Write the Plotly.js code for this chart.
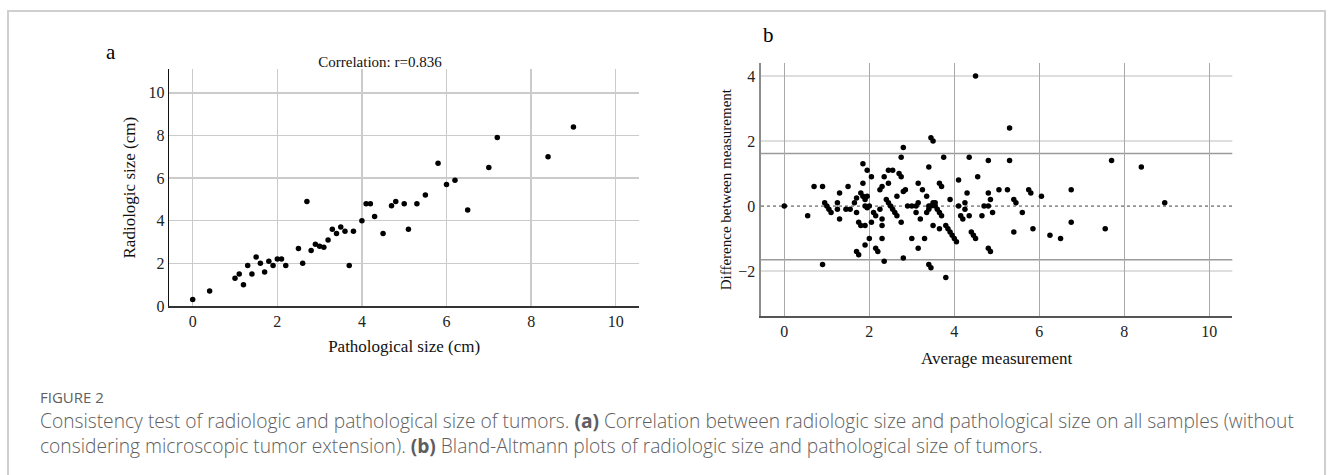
<!DOCTYPE html>
<html>
<head>
<meta charset="utf-8">
<script src="https://cdn.plot.ly/plotly-3.0.1.min.js"></script>
<style>
  html, body { margin: 0; padding: 0; background: #ffffff; }
  #chart { width: 1333px; height: 475px; }
</style>
</head>
<body>
<div id="chart"></div>
<script>
// ---------------- DATA ----------------
// Panel a: pathological size (cm) vs radiologic size (cm)
const pathSize  = [0, 0.4, 1.0, 1.1, 1.2, 1.3, 1.4, 1.5, 1.6, 1.7, 1.8, 1.9, 2.0, 2.1, 2.2, 2.5, 2.6, 2.7, 2.8, 2.9, 3.0, 3.1, 3.2, 3.3, 3.4, 3.5, 3.6, 3.7, 3.8, 4.0, 4.1, 4.2, 4.3, 4.5, 4.7, 4.8, 5.0, 5.1, 5.3, 5.5, 5.8, 6.0, 6.2, 6.5, 7.0, 7.2, 8.4, 9.0];
const radioSize = [0.3, 0.7, 1.3, 1.5, 1.0, 1.9, 1.5, 2.3, 2.0, 1.6, 2.1, 1.9, 2.2, 2.2, 1.9, 2.7, 2.0, 4.9, 2.6, 2.9, 2.8, 2.75, 3.1, 3.6, 3.4, 3.7, 3.5, 1.9, 3.5, 4.0, 4.8, 4.8, 4.2, 3.4, 4.7, 4.9, 4.8, 3.6, 4.8, 5.2, 6.7, 5.7, 5.9, 4.5, 6.5, 7.9, 7.0, 8.4];
const correlationText = "Correlation: r=0.836";

// Panel b: Bland-Altman (average vs difference)
const avgMeasure = [
  0, 0.55, 0.7, 0.9, 0.9,
  0.95, 1.0, 1.05, 1.1,
  1.25, 1.25, 1.3, 1.3, 1.45, 1.55, 1.5,
  1.65, 1.7, 1.7, 1.7, 1.75, 1.75, 1.8,
  1.8, 1.85, 1.9, 1.85, 1.85,
  1.9, 1.95, 2.0, 1.9, 1.9, 1.95, 1.95, 2.0,
  2.05, 2.05, 2.1, 2.15, 2.15, 2.2,
  2.25, 2.25, 2.3, 2.3, 2.3, 2.3, 2.35, 2.35,
  2.4, 2.45, 2.5, 2.55, 2.6, 2.65,
  2.45, 2.55, 2.45, 2.65,
  2.7, 2.75, 2.75, 2.8, 2.75, 2.8, 2.85, 2.8,
  2.9, 3.0, 3.1, 3.0, 3.1,
  3.15, 3.15, 3.15, 3.2, 3.25, 3.3, 3.35, 3.35, 3.4,
  3.4, 3.45, 3.5, 3.4, 3.45, 3.4, 3.45, 3.5,
  3.5, 3.55, 3.6, 3.65, 3.7, 3.55,
  3.65, 3.7, 3.65, 3.75, 3.8,
  3.8, 3.85, 3.9, 3.95, 4.0, 4.05, 3.9,
  4.1, 4.1, 4.15, 4.2, 4.25, 4.25, 4.3, 4.35, 4.35,
  4.4, 4.45, 4.5, 4.5, 4.55, 4.65, 4.7, 4.8,
  4.8, 4.8, 4.85, 4.9, 4.8, 4.85,
  5.05, 5.25, 5.3, 5.3, 5.4, 5.45, 5.4,
  5.6, 5.75, 5.8, 5.85, 6.05, 6.25, 6.5, 6.75, 6.75,
  7.55, 7.7, 8.4, 8.95
];
const diffMeasure = [
  0, -0.3, 0.6, 0.6, -1.8,
  0.1, 0, -0.1, -0.2,
  0.1, -0.1, 0.4, -0.4, -0.1, -0.1, 0.6,
  0.1, 0.25, -0.2, -1.4, -1.5, -0.5, -0.6,
  0.4, 0.3, 0.2, 0.7, 1.3,
  0, -0.05, 0, -0.6, -1.2, 0.3, 1.1, -1.0,
  0.9, -0.5, -0.2, -0.3, -1.3, -1.4,
  -0.1, 0.5, 0.6, -0.4, -0.6, -1.0, 0.9, -1.7,
  0.2, 0.1, 0, -0.1, -0.2, -0.3,
  1.1, 1.1, 0.7, 0.3,
  1.0, 0.9, 1.5, 1.8, -0.5, 0.45, 0.5, -1.6,
  0, 0, 0, -1.0, -0.2,
  0.7, 0.1, -1.3, -0.4, 0.5, -1.0, 0.3, -0.2, -0.1,
  1.2, 2.1, 2.0, 0, 0, -1.8, -1.9, -0.6,
  0.1, 0, -0.1, -0.2, -0.3, 0.1,
  0.7, 0.6, -0.7, 1.5, -2.2,
  -0.6, -0.7, -0.8, -0.9, -1.0, -1.1, 0.2,
  0.8, 0, -0.3, -0.4, 0.1, -0.1, 0.4, 1.5, -0.3,
  -0.8, -0.9, -1.0, 4.0, 0.9, -0.3, 0, 0,
  1.4, 0.4, 0.2, -0.2, -1.3, -1.4,
  0.5, 0.5, 1.4, 2.4, 0.2, 0.1, -0.8,
  -0.2, 0.5, 0.4, -0.7, 0.3, -0.9, -1.0, 0.5, -0.5,
  -0.7, 1.4, 1.2, 0.1
];
const meanDiff = 0;
const upperLoA = 1.62;
const lowerLoA = -1.65;

// Tick labels
const xTickVals = [0, 2, 4, 6, 8, 10];
const yTickValsA = [0, 2, 4, 6, 8, 10];
const yTickValsB = [-2, 0, 2, 4];

// Caption
const figureLabel = 'FIGURE 2';
const captionLines = [
  'Consistency test of radiologic and pathological size of tumors. <b>(a)</b> Correlation between radiologic size and pathological size on all samples (without',
  'considering microscopic tumor extension). <b>(b)</b> Bland-Altmann plots of radiologic size and pathological size of tumors.'
];

// ---------------- STYLE ----------------
const W = 1333, H = 475;
const px = v => v / W;
const py = v => 1 - v / H;
const serif = 'Liberation Serif, Times New Roman, serif';
const tickFont = { family: serif, size: 16, color: '#222' };
const titleFont = { family: serif, size: 17, color: '#111' };
const capFamily = 'Open Sans, Noto Sans, sans-serif';
const capFont = { family: capFamily, size: 19.2, color: '#5e5e5e', weight: 300 };

const traces = [
  {
    type: 'scatter', mode: 'markers', x: pathSize, y: radioSize,
    xaxis: 'x', yaxis: 'y',
    marker: { color: '#000', size: 5.5 }, hoverinfo: 'x+y', showlegend: false
  },
  {
    type: 'scatter', mode: 'markers', x: avgMeasure, y: diffMeasure,
    xaxis: 'x2', yaxis: 'y2',
    marker: { color: '#000', size: 5.5 }, hoverinfo: 'x+y', showlegend: false
  }
];

// horizontal grid lines of panel b (all tick values except the mean line)
const gridShapesB = yTickValsB.filter(v => v !== meanDiff).map(v => ({
  type: 'line', xref: 'x2 domain', yref: 'y2', x0: 0, x1: 1, y0: v, y1: v,
  line: { color: '#dedede', width: 2 }, layer: 'below'
}));

const layout = {
  width: W, height: H,
  margin: { l: 0, r: 0, t: 0, b: 0 },
  paper_bgcolor: '#fff', plot_bgcolor: 'rgba(0,0,0,0)',
  showlegend: false,
  title: {
    text: correlationText, font: { family: serif, size: 15, color: '#111' },
    xref: 'paper', yref: 'container', x: px(380), xanchor: 'center', y: py(62), yanchor: 'middle'
  },
  xaxis: {
    domain: [px(169.3), px(639)], range: [-0.553, 10.55], anchor: 'y',
    tickvals: xTickVals, ticks: '', tickfont: tickFont,
    showgrid: true, gridcolor: '#cbcbcb', gridwidth: 1.5, zeroline: false,
    showline: true, linecolor: '#333', linewidth: 2,
    title: { text: 'Pathological size (cm)', font: titleFont, standoff: 11 }
  },
  yaxis: {
    domain: [py(306), py(69.3)], range: [0, 11.1], anchor: 'x',
    tickvals: yTickValsA, ticks: '', tickfont: tickFont,
    showgrid: true, gridcolor: '#cbcbcb', gridwidth: 1.5, zeroline: false,
    showline: true, linecolor: '#111', linewidth: 1.5,
    title: { text: 'Radiologic size (cm)', font: titleFont, standoff: 8 }
  },
  xaxis2: {
    domain: [px(761), px(1232.3)], range: [-0.548, 10.54], anchor: 'y2',
    tickvals: xTickVals, ticks: '', tickfont: tickFont,
    showgrid: true, gridcolor: '#a9a9a9', gridwidth: 1, zeroline: false,
    showline: true, linecolor: '#555', linewidth: 2,
    title: { text: 'Average measurement', font: titleFont, standoff: 13 }
  },
  yaxis2: {
    domain: [py(316), py(63.3)], range: [-3.38, 4.39], anchor: 'x2',
    tickvals: yTickValsB, ticks: '', tickfont: tickFont,
    showgrid: false, zeroline: false,
    showline: true, linecolor: '#8c8c8c', linewidth: 2.5,
    title: { text: 'Difference between measurement', font: { family: serif, size: 15, color: '#111' }, standoff: 3 }
  },
  shapes: [
    // outer figure frame
    { type: 'rect', xref: 'paper', yref: 'paper', x0: px(8), x1: px(1325), y0: -0.2, y1: py(11),
      line: { color: '#cfcfcf', width: 2 }, fillcolor: 'rgba(0,0,0,0)', layer: 'below' },
    ...gridShapesB,
    // limits of agreement
    { type: 'line', xref: 'x2 domain', yref: 'y2', x0: 0, x1: 1, y0: upperLoA, y1: upperLoA,
      line: { color: '#9a9a9a', width: 1.5 }, layer: 'below' },
    { type: 'line', xref: 'x2 domain', yref: 'y2', x0: 0, x1: 1, y0: lowerLoA, y1: lowerLoA,
      line: { color: '#9a9a9a', width: 1.5 }, layer: 'below' },
    // mean difference (dotted)
    { type: 'line', xref: 'x2 domain', yref: 'y2', x0: 0, x1: 1, y0: meanDiff, y1: meanDiff,
      line: { color: '#444', width: 1, dash: 'dot' }, layer: 'below' }
  ],
  annotations: [
    { text: 'a', xref: 'paper', yref: 'paper', x: px(111), y: py(52), xanchor: 'center', yanchor: 'middle',
      showarrow: false, font: { family: serif, size: 21, color: '#000' } },
    { text: 'b', xref: 'paper', yref: 'paper', x: px(768), y: py(35), xanchor: 'center', yanchor: 'middle',
      showarrow: false, font: { family: serif, size: 21, color: '#000' } },
    { text: figureLabel, xref: 'paper', yref: 'paper', x: px(38), y: py(397), xanchor: 'left', yanchor: 'middle',
      showarrow: false, font: { family: capFamily, size: 15, color: '#606060', weight: 400 } },
    { text: captionLines.join('<br>'), align: 'left',
      xref: 'paper', yref: 'paper', x: px(38), y: py(433), xanchor: 'left', yanchor: 'middle',
      showarrow: false, font: capFont }
  ]
};

Plotly.newPlot('chart', traces, layout, { staticPlot: true, displayModeBar: false });
</script>
</body>
</html>
